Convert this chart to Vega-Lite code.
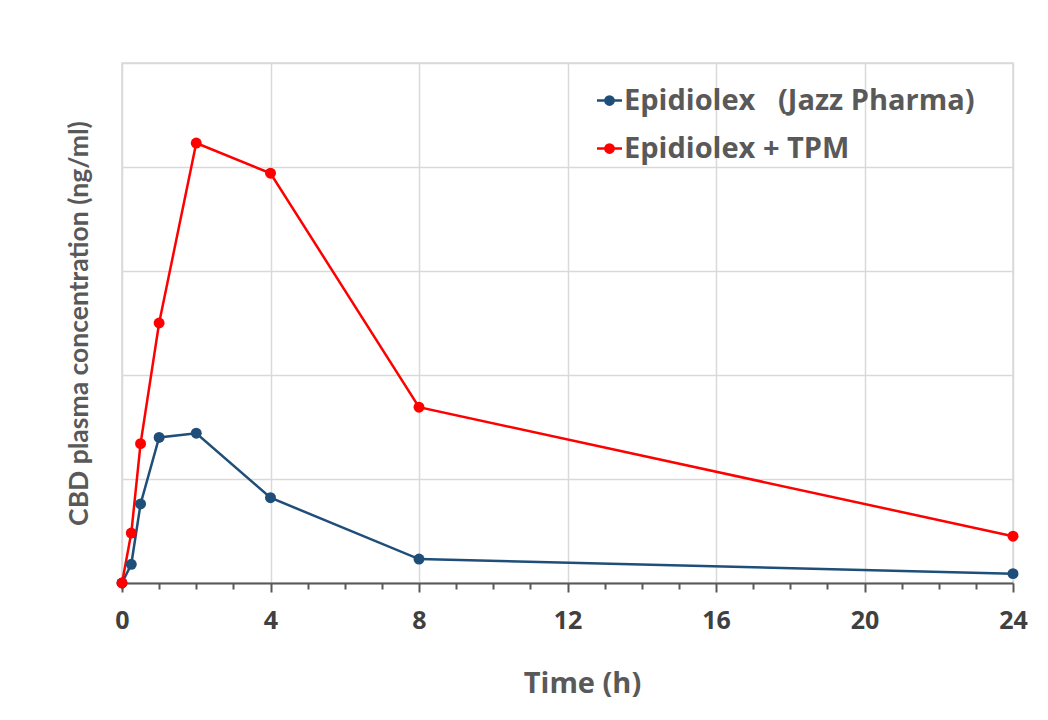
{
  "$schema": "https://vega.github.io/schema/vega-lite/v6.json",
  "width": 891,
  "height": 520,
  "autosize": {"type": "none"},
  "padding": {"left": 122, "top": 63, "right": 35, "bottom": 137},
  "background": "white",
  "config": {
    "font": "Open Sans",
    "view": {"stroke": "#d9d9d9", "strokeWidth": 1.5},
    "legend": {
      "symbolType": "M-1,0H1M-0.33,0A0.33,0.33 0 1,0 0.33,0A0.33,0.33 0 1,0 -0.33,0Z",
      "symbolSize": 625,
      "symbolStrokeWidth": 2.5
    }
  },
  "data": {
    "values": [
      {"series": "Epidiolex\u00a0\u00a0\u00a0(Jazz Pharma)", "t": 0, "c": 0},
      {"series": "Epidiolex\u00a0\u00a0\u00a0(Jazz Pharma)", "t": 0.25, "c": 18},
      {"series": "Epidiolex\u00a0\u00a0\u00a0(Jazz Pharma)", "t": 0.5, "c": 76},
      {"series": "Epidiolex\u00a0\u00a0\u00a0(Jazz Pharma)", "t": 1, "c": 140},
      {"series": "Epidiolex\u00a0\u00a0\u00a0(Jazz Pharma)", "t": 2, "c": 144},
      {"series": "Epidiolex\u00a0\u00a0\u00a0(Jazz Pharma)", "t": 4, "c": 82},
      {"series": "Epidiolex\u00a0\u00a0\u00a0(Jazz Pharma)", "t": 8, "c": 23},
      {"series": "Epidiolex\u00a0\u00a0\u00a0(Jazz Pharma)", "t": 24, "c": 9},
      {"series": "Epidiolex + TPM", "t": 0, "c": 0},
      {"series": "Epidiolex + TPM", "t": 0.25, "c": 48},
      {"series": "Epidiolex + TPM", "t": 0.5, "c": 134},
      {"series": "Epidiolex + TPM", "t": 1, "c": 250},
      {"series": "Epidiolex + TPM", "t": 2, "c": 423},
      {"series": "Epidiolex + TPM", "t": 4, "c": 394},
      {"series": "Epidiolex + TPM", "t": 8, "c": 169},
      {"series": "Epidiolex + TPM", "t": 24, "c": 45}
    ]
  },
  "encoding": {
    "y": {
      "field": "c",
      "type": "quantitative",
      "scale": {"domain": [0, 500], "nice": false},
      "axis": {
        "title": "CBD plasma concentration (ng/ml)",
        "values": [0, 100, 200, 300, 400, 500],
        "labels": false,
        "ticks": false,
        "domain": false,
        "grid": true,
        "gridColor": "#d9d9d9",
        "gridWidth": 1.5,
        "titleFont": "Lato",
        "titleFontSize": 26.5,
        "titleFontWeight": "bold",
        "titleColor": "#595959",
        "titlePadding": 29
      }
    },
    "color": {
      "field": "series",
      "type": "nominal",
      "scale": {
        "domain": ["Epidiolex\u00a0\u00a0\u00a0(Jazz Pharma)", "Epidiolex + TPM"],
        "range": ["#1f4e79", "#ff0000"]
      },
      "legend": {
        "title": null,
        "orient": "none",
        "legendX": 473,
        "legendY": 23,
        "labelFont": "Open Sans",
        "labelFontSize": 29,
        "labelFontWeight": "bold",
        "labelColor": "#595959",
        "labelOffset": 0,
        "rowPadding": 18,
        "labelLimit": 600,
        "encode": {
          "symbols": {"update": {"fill": {"scale": "color", "field": "value"}, "stroke": {"scale": "color", "field": "value"}}}
        }
      }
    }
  },
  "layer": [
    {
      "mark": {"type": "line", "strokeWidth": 2.5},
      "encoding": {
        "x": {
          "field": "t",
          "type": "quantitative",
          "scale": {"domain": [0, 24], "nice": false},
          "axis": {
            "orient": "bottom",
            "title": "Time (h)",
            "titleX": 460,
            "values": [0, 4, 8, 12, 16, 20, 24],
            "grid": true,
            "gridColor": "#d9d9d9",
            "gridWidth": 1.5,
            "domainColor": "#595959",
            "domainWidth": 2,
            "tickColor": "#595959",
            "tickWidth": 2,
            "tickSize": 9,
            "labelFlush": false,
            "labelFont": "Open Sans",
            "labelFontSize": 25,
            "labelFontWeight": "bold",
            "labelColor": "#404040",
            "labelPadding": 16,
            "titleFont": "Open Sans",
            "titleFontSize": 29,
            "titleFontWeight": "bold",
            "titleColor": "#595959",
            "titlePadding": 36
          }
        }
      }
    },
    {
      "mark": {"type": "point", "filled": true, "size": 120, "opacity": 1},
      "encoding": {
        "x": {
          "field": "t",
          "type": "quantitative",
          "axis": {
            "orient": "bottom",
            "title": null,
            "values": [0, 1, 2, 3, 5, 6, 7, 9, 10, 11, 13, 14, 15, 17, 18, 19, 21, 22, 23],
            "labels": false,
            "grid": false,
            "domain": false,
            "tickColor": "#595959",
            "tickWidth": 2,
            "tickSize": 6
          }
        }
      }
    }
  ],
  "resolve": {"axis": {"x": "independent"}}
}
